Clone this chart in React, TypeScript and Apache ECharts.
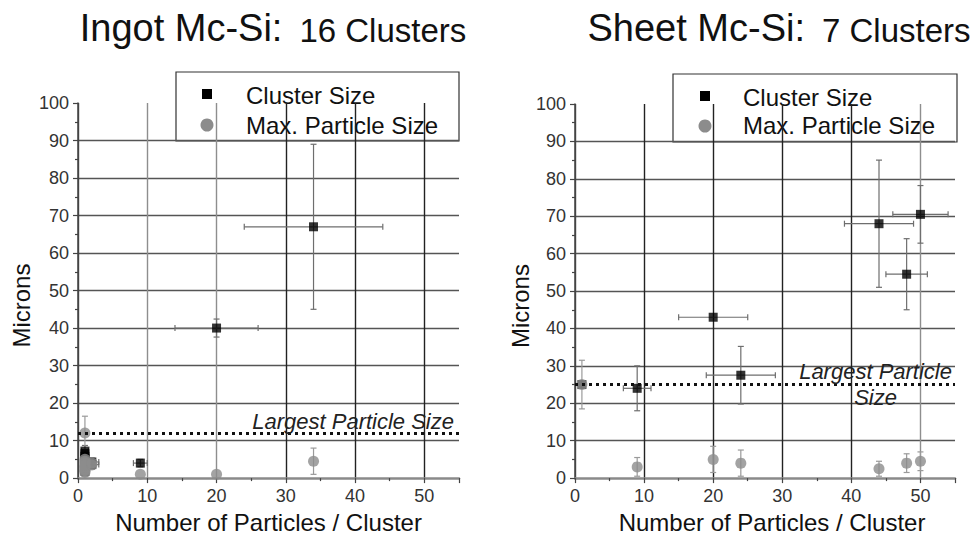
import { useEffect, useRef } from "react";
import * as echarts from "echarts";

// ---- Ingot Mc-Si: 16 clusters ----
const ingotClusterX = [34, 20, 9, 1, 1, 1, 1, 1, 1, 1, 1, 1, 1, 1, 2, 2];
const ingotClusterY = [67, 40, 4, 1.8, 2.6, 3.1, 3.9, 4.4, 5.2, 5.8, 6.5, 7.2, 2.2, 3.4, 3.6, 4.3];
const ingotClusterXErr = [10, 6, 1, 0.5, 0.5, 0.5, 0.5, 0.5, 0.5, 0.5, 0.5, 0.5, 0.5, 0.5, 1, 1];
const ingotClusterYErr = [22, 2.4, 1, 1.2, 1, 1.5, 1, 1.5, 1, 1.2, 1, 1.5, 1, 1.5, 1.2, 1];
const ingotParticleY = [4.5, 1, 1, 12, 1.5, 2, 2.5, 3, 3, 4, 4.5, 5, 2, 3.5, 3.5, 4];
const ingotParticleErr = [3.5, 0, 0, 4.5, 1, 1, 1, 1, 1, 1, 1, 1, 1, 1, 1, 1];
const ingotLargest = 12;

// ---- Sheet Mc-Si: 7 clusters ----
const sheetClusterX = [1, 9, 20, 24, 44, 48, 50];
const sheetClusterY = [25, 24, 43, 27.5, 68, 54.5, 70.5];
const sheetClusterXErr = [0, 2, 5, 5, 5, 3, 4];
const sheetClusterYErr = [0, 6, 0, 7.7, 17, 9.5, 7.7];
const sheetParticleY = [25, 3, 5, 4, 2.5, 4, 4.5];
const sheetParticleErr = [6.5, 2.5, 3.5, 3.5, 2, 2.5, 2.5];
const sheetLargest = 25;

const xMax = 55;
const yMax = 100;

const FONT = '"Liberation Sans", Arial, Helvetica, sans-serif';

function errorBarItem(color: string) {
  return (_params: any, api: any) => {
    const x = api.value(0);
    const y = api.value(1);
    const ex = api.value(2);
    const ey = api.value(3);
    const style = { stroke: color, lineWidth: 1.2 };
    const cap = 3;
    const children: any[] = [];
    if (ey > 0) {
      const top = api.coord([x, y + ey]);
      const bot = api.coord([x, Math.max(0, y - ey)]);
      children.push(
        { type: "line", shape: { x1: top[0], y1: top[1], x2: bot[0], y2: bot[1] }, style },
        { type: "line", shape: { x1: top[0] - cap, y1: top[1], x2: top[0] + cap, y2: top[1] }, style },
        { type: "line", shape: { x1: bot[0] - cap, y1: bot[1], x2: bot[0] + cap, y2: bot[1] }, style }
      );
    }
    if (ex > 0) {
      const l = api.coord([Math.max(0, x - ex), y]);
      const r = api.coord([x + ex, y]);
      children.push(
        { type: "line", shape: { x1: l[0], y1: l[1], x2: r[0], y2: r[1] }, style },
        { type: "line", shape: { x1: l[0], y1: l[1] - cap, x2: l[0], y2: l[1] + cap }, style },
        { type: "line", shape: { x1: r[0], y1: r[1] - cap, x2: r[0], y2: r[1] + cap }, style }
      );
    }
    return { type: "group", children };
  };
}

function xAxisFor(gridIndex: number, lineColors: string[], namePad: number[]) {
  return {
    type: "value",
    gridIndex,
    min: 0,
    max: xMax,
    interval: 10,
    name: "Number of Particles / Cluster",
    nameLocation: "middle",
    nameGap: 25,
    nameTextStyle: { fontSize: 24, color: "#111", fontFamily: FONT, padding: namePad },
    axisLine: { show: true, onZero: false, lineStyle: { color: "#8a8a8a", width: 2.5 } },
    axisTick: { show: true, length: 5, lineStyle: { color: "#444", width: 1.2 } },
    minorTick: { show: true, splitNumber: 2, length: 3, lineStyle: { color: "#444", width: 1.2 } },
    axisLabel: { fontSize: 18, color: "#333", fontFamily: FONT, margin: 9, showMaxLabel: false },
    splitLine: { show: true, showMaxLine: false, lineStyle: { color: lineColors, width: 1.4 } },
  };
}

function yAxisFor(gridIndex: number, nameGap: number) {
  return {
    type: "value",
    gridIndex,
    min: 0,
    max: yMax,
    interval: 10,
    name: "Microns",
    nameLocation: "middle",
    nameGap,
    nameTextStyle: { fontSize: 24, color: "#111", fontFamily: FONT, padding: [0, 30, 0, 0] },
    axisLine: { show: true, onZero: false, lineStyle: { color: "#444", width: 1.5 } },
    axisTick: { show: true, length: 5, lineStyle: { color: "#444", width: 1.2 } },
    minorTick: { show: true, splitNumber: 2, length: 3, lineStyle: { color: "#444", width: 1.2 } },
    axisLabel: { fontSize: 18, color: "#333", fontFamily: FONT, margin: 9 },
    splitLine: { show: true, showMinLine: false, showMaxLine: false, lineStyle: { color: "#555", width: 1.4 } },
  };
}

function seriesFor(
  idx: number,
  cx: number[],
  cy: number[],
  cxe: number[],
  cye: number[],
  py: number[],
  pe: number[],
  largest: number,
  largestLabel: any
) {
  const clusterBars = cx.map((x, i) => [x, cy[i], cxe[i], cye[i]]);
  const clusters = cx.map((x, i) => [x, cy[i]]);
  const particleBars = cx.map((x, i) => [x, py[i], 0, pe[i]]);
  const particles = cx.map((x, i) => [x, py[i]]);
  return [
    {
      type: "custom",
      xAxisIndex: idx,
      yAxisIndex: idx,
      renderItem: errorBarItem("#6e6e6e"),
      encode: { x: 0, y: 1 },
      data: clusterBars,
      clip: true,
      silent: true,
    },
    {
      name: "Cluster Size",
      type: "scatter",
      xAxisIndex: idx,
      yAxisIndex: idx,
      symbol: "rect",
      symbolSize: 9,
      itemStyle: { color: "#000" },
      data: clusters,
    },
    {
      type: "custom",
      xAxisIndex: idx,
      yAxisIndex: idx,
      renderItem: errorBarItem("#9a9a9a"),
      encode: { x: 0, y: 1 },
      data: particleBars,
      clip: true,
      silent: true,
    },
    {
      name: "Max. Particle Size",
      type: "scatter",
      xAxisIndex: idx,
      yAxisIndex: idx,
      symbol: "circle",
      symbolSize: 11,
      itemStyle: { color: "#8c8c8c" },
      data: particles,
      markLine: {
        silent: true,
        symbol: "none",
        animation: false,
        lineStyle: { color: "#111", type: [3, 4], width: 3, cap: "butt" },
        label: largestLabel,
        data: [[{ coord: [0, largest] }, { coord: [xMax, largest] }]],
      },
    },
  ];
}

function legendGraphic(bx: number, by: number, bw: number, bh: number, sq: number[], ci: number[], tx: number, ty: number[]) {
  return {
    type: "group",
    z: 100,
    children: [
      { type: "rect", shape: { x: bx, y: by, width: bw, height: bh }, style: { fill: "#fff", stroke: "#333", lineWidth: 1.2 } },
      { type: "rect", shape: { x: sq[0] - 5, y: sq[1] - 5, width: 10, height: 10 }, style: { fill: "#000" } },
      { type: "circle", shape: { cx: ci[0], cy: ci[1], r: 6.5 }, style: { fill: "#8c8c8c" } },
      { type: "text", x: tx, y: ty[0], style: { text: "Cluster Size", fontSize: 24, fontFamily: FONT, fill: "#111", verticalAlign: "middle" } },
      { type: "text", x: tx, y: ty[1], style: { text: "Max. Particle Size", fontSize: 24, fontFamily: FONT, fill: "#111", verticalAlign: "middle" } },
    ],
  };
}

export default function App() {
  const ref = useRef<HTMLDivElement>(null);

  useEffect(() => {
    if (!ref.current) return;
    const chart = echarts.init(ref.current, null, { renderer: "svg" });

    const titleRich = {
      a: { fontSize: 38, fontFamily: FONT, fontWeight: "normal", color: "#111", verticalAlign: "bottom" },
      b: { fontSize: 33, fontFamily: FONT, fontWeight: "normal", color: "#111", verticalAlign: "bottom", padding: [0, 0, 0, 12] },
    };

    const ingotLabel = {
      show: true,
      position: "insideEndTop",
      distance: 5,
      formatter: "Largest Particle Size",
      fontSize: 22,
      lineHeight: 14,
      fontStyle: "italic",
      fontFamily: FONT,
      color: "#222",
    };
    const sheetLabel = {
      show: true,
      position: "insideEnd",
      distance: 3,
      formatter: "{a|Largest Particle}\n{b|Size}",
      rich: {
        a: { fontSize: 22, fontStyle: "italic", fontFamily: FONT, color: "#222", lineHeight: 26 },
        b: { fontSize: 22, fontStyle: "italic", fontFamily: FONT, color: "#222", lineHeight: 26, align: "center" },
      },
    };

    chart.setOption({
      animation: false,
      backgroundColor: "#fff",
      title: [
        {
          text: "{a|Ingot Mc-Si:} {b|16 Clusters}",
          left: 268,
          top: 4,
          textAlign: "center",
          textStyle: { fontWeight: "normal", rich: titleRich },
        },
        {
          text: "{a|Sheet Mc-Si:} {b|7 Clusters}",
          left: 774,
          top: 4,
          textAlign: "center",
          textStyle: { fontWeight: "normal", rich: titleRich },
        },
      ],
      grid: [
        { left: 78, top: 103, width: 381, height: 380 },
        { left: 575, top: 104, width: 380, height: 380 },
      ],
      xAxis: [
        xAxisFor(0, ["#444", "#8e8e8e", "#8e8e8e", "#222", "#222", "#222"], [0, 0, 0, 0]),
        xAxisFor(1, ["#444", "#222", "#222", "#222", "#222", "#8e8e8e"], [0, 0, 0, 14]),
      ],
      yAxis: [yAxisFor(0, 45), yAxisFor(1, 43)],
      series: [
        ...seriesFor(0, ingotClusterX, ingotClusterY, ingotClusterXErr, ingotClusterYErr, ingotParticleY, ingotParticleErr, ingotLargest, ingotLabel),
        ...seriesFor(1, sheetClusterX, sheetClusterY, sheetClusterXErr, sheetClusterYErr, sheetParticleY, sheetParticleErr, sheetLargest, sheetLabel),
      ],
      graphic: [
        legendGraphic(176, 72, 283, 69, [207, 94], [207, 125], 246, [95, 125]),
        legendGraphic(673, 74, 284, 68, [705, 96], [705, 126], 743, [97, 125]),
      ],
    });

    return () => chart.dispose();
  }, []);

  return (
    <div
      ref={ref}
      style={{ position: "absolute", left: 0, top: 0, width: 973, height: 539, background: "#fff" }}
    />
  );
}
